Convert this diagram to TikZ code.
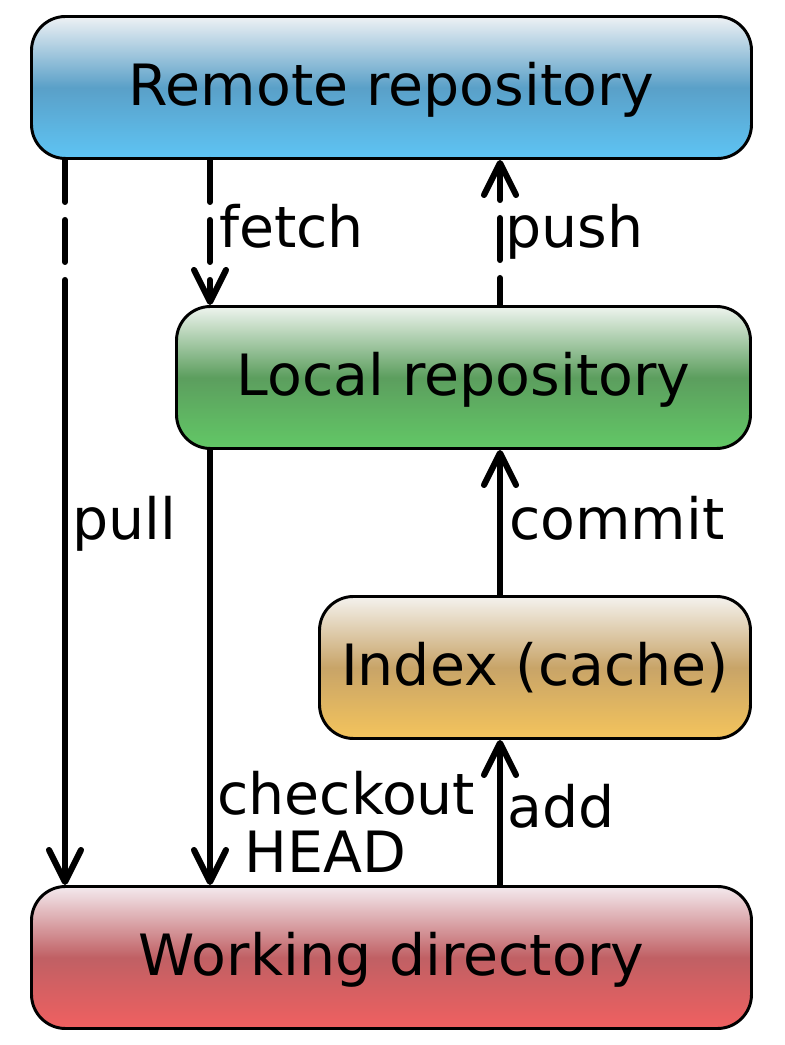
\documentclass[tikz,border=0pt]{standalone}
\usepackage{fontspec}
\setmainfont{DejaVu Sans}
\usetikzlibrary{arrows.meta}

\definecolor{remotetop}{HTML}{EEF1F4}
\definecolor{remotemid}{HTML}{5AA0C8}
\definecolor{remotebot}{HTML}{5EC4F4}
\definecolor{localtop}{HTML}{EEF4EE}
\definecolor{localmid}{HTML}{5C9E5E}
\definecolor{localbot}{HTML}{62C866}
\definecolor{indextop}{HTML}{F4F2EE}
\definecolor{indexmid}{HTML}{C8A468}
\definecolor{indexbot}{HTML}{F4C45C}
\definecolor{worktop}{HTML}{F4EAEE}
\definecolor{workmid}{HTML}{C06064}
\definecolor{workbot}{HTML}{F06060}

\begin{document}
\begin{tikzpicture}[main/.style = {draw, line width=2.1pt, rounded corners=0.85cm, minimum height=3.55cm, inner sep=0, text height=32.4pt, text depth=6.5pt, font=\fontsize{40.5}{41.3}\selectfont},
	flow/.style = {line width=4.3pt, -{Straight Barb[length=0.8cm, width=0.8cm, round]}},
	dashflow/.style = {flow, line cap=round, dash pattern=on 1.05cm off 0.45cm},
	lbl/.style = {anchor=base west, inner sep=0, align=left, font=\fontsize{40.5}{41.3}\selectfont}]

			\useasboundingbox (0,0) rectangle (19.6,26.125);

			\node[main, minimum width=18cm, top color=remotetop, bottom color=remotebot, middle color=remotemid] (Remote) at (9.7875,23.9375) {Remote repository};
			\node[main, minimum width=14.35cm, top color=localtop, bottom color=localbot, middle color=localmid] (Local) at (11.5875,16.6875) {Local repository};
			\node[main, minimum width=10.775cm, top color=indextop, bottom color=indexbot, middle color=indexmid] (Index) at (13.375,9.4375) {Index (cache)};
			\node[main, minimum width=18cm, top color=worktop, bottom color=workbot, middle color=workmid] (Work) at (9.7875,2.1875) {Working directory};

			\coordinate (pullx) at (1.625,0);
			\coordinate (fetchx) at (5.25,0);
			\coordinate (pushx) at (12.5,0);

			\draw[flow, line cap=round, dash pattern=on 1.05cm off 0.45cm on 1.05cm off 0.45cm on 30cm off 0cm] (Remote.south -| pullx) -- (Work.north -| pullx);
			\draw[dashflow] (Remote.south -| fetchx) -- (Local.north -| fetchx);
			\draw[dashflow, dash phase=0.375cm] (Local.north -| pushx) -- (Remote.south -| pushx);
			\draw[flow] (Local.south -| fetchx) -- (Work.north -| fetchx);
			\draw[flow] (Index.north -| pushx) -- (Local.south -| pushx);
			\draw[flow] (Work.north -| pushx) -- (Index.south -| pushx);

			\node[lbl] (pulllbl) at (1.8,12.625) {pull};
			\node[lbl] (fetchlbl) at (5.475,19.925) {fetch};
			\node[lbl] (pushlbl) at (12.625,19.925) {push};
			\node[lbl] (commitlbl) at (12.725,12.625) {commit};
			\node[lbl] (checkoutlbl) at (5.425,4.3) {checkout\\\hspace{0.675cm}HEAD};
			\node[lbl] (addlbl) at (12.675,5.425) {add};
		\end{tikzpicture}
\end{document}
